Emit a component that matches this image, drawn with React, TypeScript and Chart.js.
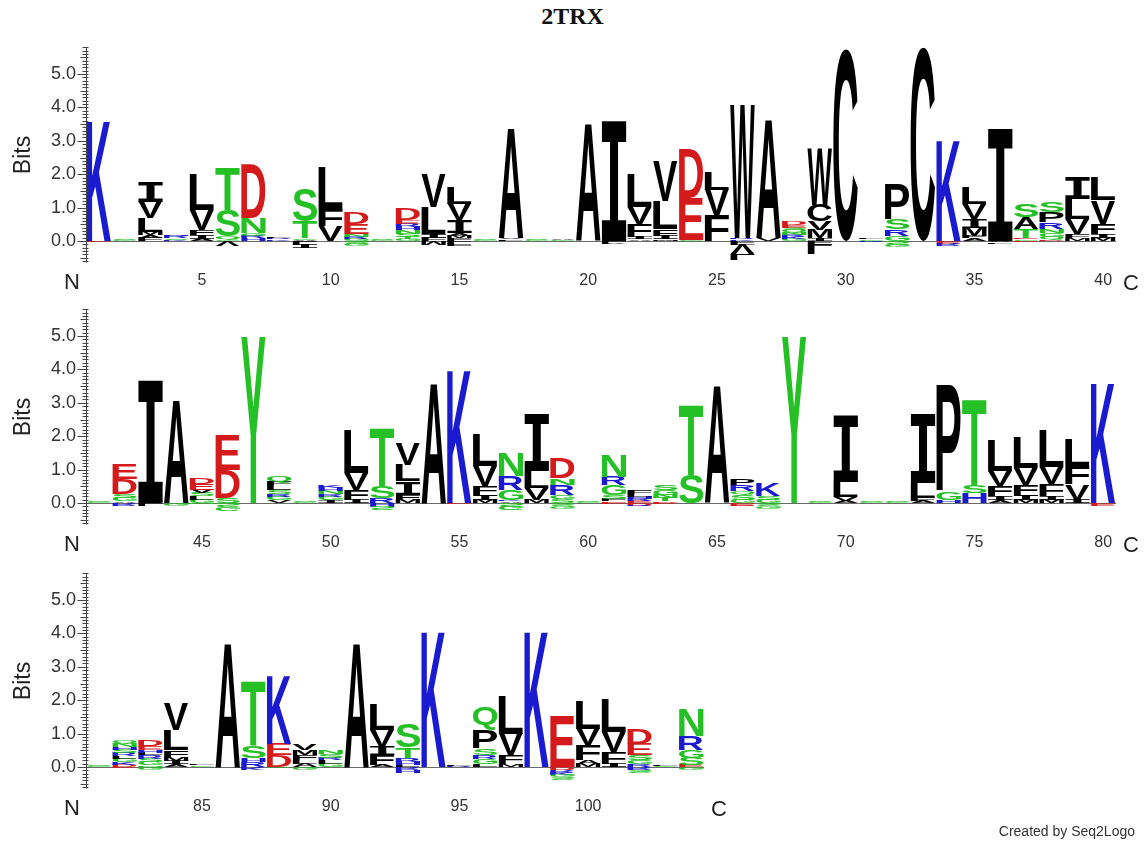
import React, { useEffect, useRef } from "react";
import { Chart, registerables } from "chart.js";

Chart.register(...registerables);

type Stack = [string, number][];

const TITLE = "2TRX";
const CREDIT = "Created by Seq2Logo";
const Y_LABEL = "Bits";
const Y_TICKS = [0, 1, 2, 3, 4, 5];
const Y_MIN = -0.65;
const Y_MAX = 5.8;
const X_LABEL_EVERY = 5;

// stacks: bottom -> top (bits)
const row1Up: Stack[] = [
  [["K", 3.6]],
  [["G", 0.03], ["S", 0.03]],
  [["F", 0.1], ["A", 0.08], ["M", 0.1], ["L", 0.4], ["V", 0.5], ["I", 0.57]],
  [["K", 0.04], ["S", 0.05], ["R", 0.06], ["H", 0.05]],
  [["A", 0.06], ["I", 0.12], ["F", 0.15], ["V", 0.6], ["L", 1.07]],
  [["G", 0.05], ["Q", 0.08], ["S", 0.8], ["T", 1.27]],
  [["H", 0.08], ["R", 0.08], ["G", 0.07], ["N", 0.45], ["D", 1.6]],
  [["K", 0.05], ["R", 0.05], ["L", 0.05]],
  [["A", 0.04], ["G", 0.04], ["T", 0.5], ["S", 0.98]],
  [["V", 0.45], ["F", 0.5], ["L", 1.25]],
  [["G", 0.06], ["R", 0.06], ["N", 0.08], ["E", 0.3], ["D", 0.35]],
  [["G", 0.03], ["S", 0.03]],
  [["G", 0.06], ["T", 0.06], ["S", 0.1], ["N", 0.1], ["H", 0.1], ["R", 0.1], ["E", 0.1], ["D", 0.35]],
  [["F", 0.1], ["I", 0.12], ["L", 0.8], ["V", 1.0]],
  [["F", 0.08], ["M", 0.08], ["A", 0.08], ["I", 0.38], ["V", 0.48], ["L", 0.5]],
  [["G", 0.04], ["S", 0.03]],
  [["L", 0.05], ["V", 0.05], ["A", 3.3]],
  [["G", 0.03], ["S", 0.03]],
  [["G", 0.03], ["A", 0.02]],
  [["A", 3.55]],
  [["I", 3.6]],
  [["A", 0.05], ["I", 0.07], ["F", 0.4], ["V", 0.5], ["L", 1.0]],
  [["M", 0.05], ["I", 0.1], ["F", 0.2], ["L", 0.85], ["V", 1.2]],
  [["G", 0.02], ["E", 1.28], ["D", 1.45]],
  [["F", 0.78], ["V", 0.75], ["L", 0.55]],
  [["K", 0.05], ["R", 0.05], ["W", 4.0]],
  [["V", 0.08], ["A", 3.57]],
  [["G", 0.06], ["K", 0.06], ["R", 0.06], ["N", 0.07], ["Q", 0.07], ["S", 0.07], ["E", 0.08], ["D", 0.1]],
  [["I", 0.08], ["M", 0.25], ["V", 0.25], ["C", 0.5], ["W", 1.7]],
  [["C", 5.75]],
  [["G", 0.05], ["L", 0.05]],
  [["G", 0.15], ["R", 0.2], ["S", 0.3], ["P", 1.05]],
  [["C", 5.8]],
  [["K", 3.05]],
  [["A", 0.08], ["F", 0.07], ["M", 0.25], ["I", 0.25], ["V", 0.45], ["L", 0.5]],
  [["I", 3.35]],
  [["G", 0.05], ["E", 0.05], ["T", 0.25], ["A", 0.35], ["S", 0.4]],
  [["D", 0.05], ["Q", 0.08], ["G", 0.12], ["N", 0.12], ["R", 0.2], ["P", 0.3], ["S", 0.3]],
  [["M", 0.08], ["F", 0.12], ["V", 0.45], ["L", 0.6], ["I", 0.65]],
  [["M", 0.1], ["I", 0.12], ["F", 0.3], ["V", 0.7], ["L", 0.68]],
];
// depleted residues: zero -> down (bits)
const row1Down: Record<number, Stack> = {
  1: [["E", 0.03]],
  6: [["V", 0.15]],
  9: [["L", 0.1], ["I", 0.12]],
  11: [["S", 0.06], ["G", 0.08]],
  14: [["M", 0.12]],
  15: [["L", 0.06], ["F", 0.06]],
  21: [["L", 0.06], ["V", 0.05]],
  26: [["F", 0.1], ["V", 0.3], ["L", 0.2]],
  29: [["F", 0.1], ["L", 0.3]],
  31: [["R", 0.04]],
  32: [["S", 0.1], ["G", 0.08]],
  34: [["E", 0.06], ["R", 0.06]],
  36: [["V", 0.05], ["L", 0.05]],
  37: [["D", 0.05]],
};

const row2Up: Stack[] = [
  [["G", 0.03], ["S", 0.03]],
  [["A", 0.05], ["G", 0.1], ["S", 0.12], ["D", 0.45], ["E", 0.45]],
  [["I", 3.65]],
  [["A", 3.1]],
  [["G", 0.1], ["L", 0.1], ["S", 0.1], ["V", 0.1], ["E", 0.18], ["D", 0.2]],
  [["S", 0.15], ["D", 0.85], ["E", 1.05]],
  [["Y", 5.0]],
  [["V", 0.08], ["G", 0.1], ["R", 0.08], ["S", 0.12], ["L", 0.15], ["F", 0.1], ["Q", 0.17]],
  [["G", 0.02], ["S", 0.02]],
  [["I", 0.08], ["G", 0.1], ["R", 0.08], ["N", 0.1], ["H", 0.1], ["K", 0.08]],
  [["I", 0.1], ["F", 0.3], ["V", 0.5], ["L", 1.3]],
  [["R", 0.15], ["S", 0.35], ["T", 1.75]],
  [["M", 0.1], ["F", 0.15], ["I", 0.4], ["L", 0.5], ["V", 0.65]],
  [["A", 3.6]],
  [["K", 4.0]],
  [["M", 0.1], ["I", 0.15], ["F", 0.25], ["V", 0.6], ["L", 0.95]],
  [["A", 0.05], ["K", 0.05], ["G", 0.3], ["R", 0.4], ["N", 0.7]],
  [["M", 0.1], ["V", 0.35], ["L", 0.5], ["I", 1.7]],
  [["S", 0.12], ["G", 0.13], ["R", 0.3], ["N", 0.2], ["D", 0.6]],
  [["G", 0.03], ["S", 0.03]],
  [["E", 0.05], ["F", 0.08], ["S", 0.1], ["G", 0.3], ["R", 0.25], ["N", 0.65]],
  [["E", 0.06], ["R", 0.06], ["H", 0.06], ["L", 0.1], ["F", 0.1]],
  [["D", 0.05], ["T", 0.1], ["N", 0.1], ["G", 0.15], ["S", 0.15]],
  [["S", 0.85], ["T", 2.1]],
  [["A", 3.55]],
  [["G", 0.1], ["S", 0.15], ["Q", 0.1], ["R", 0.2], ["P", 0.2]],
  [["G", 0.1], ["S", 0.1], ["K", 0.38]],
  [["Y", 5.0]],
  [["G", 0.03], ["S", 0.03]],
  [["A", 0.06], ["V", 0.12], ["L", 0.45], ["I", 2.0]],
  [["G", 0.03], ["S", 0.02]],
  [["G", 0.03], ["S", 0.02]],
  [["A", 0.06], ["F", 0.1], ["L", 0.45], ["I", 2.05]],
  [["H", 0.08], ["G", 0.25], ["P", 3.2]],
  [["H", 0.3], ["S", 0.22], ["T", 2.6]],
  [["A", 0.08], ["I", 0.12], ["F", 0.3], ["V", 0.45], ["L", 0.9]],
  [["M", 0.1], ["I", 0.15], ["F", 0.3], ["V", 0.5], ["L", 0.9]],
  [["M", 0.1], ["I", 0.12], ["F", 0.35], ["V", 0.5], ["L", 1.1]],
  [["I", 0.1], ["V", 0.45], ["F", 0.55], ["L", 0.8]],
  [["K", 3.6]],
];
const row2Down: Record<number, Stack> = {
  42: [["R", 0.06]],
  43: [["L", 0.08]],
  44: [["G", 0.08]],
  45: [["N", 0.05]],
  46: [["S", 0.12], ["G", 0.12]],
  52: [["H", 0.1], ["S", 0.12]],
  55: [["E", 0.04]],
  57: [["S", 0.1], ["G", 0.1]],
  59: [["S", 0.08], ["G", 0.08]],
  61: [["E", 0.05]],
  62: [["D", 0.06], ["R", 0.05]],
  63: [["E", 0.04]],
  66: [["E", 0.06], ["D", 0.05]],
  67: [["S", 0.08], ["G", 0.06]],
  80: [["E", 0.07]],
};

const row3Up: Stack[] = [
  [["G", 0.03], ["S", 0.03]],
  [["D", 0.06], ["K", 0.08], ["G", 0.1], ["L", 0.08], ["R", 0.1], ["S", 0.1], ["H", 0.08], ["N", 0.1], ["Q", 0.1]],
  [["N", 0.05], ["G", 0.1], ["S", 0.1], ["R", 0.1], ["L", 0.08], ["H", 0.08], ["E", 0.12], ["D", 0.17]],
  [["A", 0.08], ["I", 0.1], ["M", 0.12], ["F", 0.2], ["L", 0.6], ["V", 0.8]],
  [["G", 0.05], ["L", 0.04]],
  [["A", 3.72]],
  [["R", 0.15], ["H", 0.12], ["S", 0.35], ["T", 1.95]],
  [["D", 0.35], ["E", 0.35], ["K", 2.05]],
  [["A", 0.1], ["L", 0.1], ["F", 0.15], ["M", 0.15], ["V", 0.2]],
  [["G", 0.1], ["L", 0.1], ["R", 0.08], ["S", 0.12], ["N", 0.1]],
  [["A", 3.72]],
  [["A", 0.06], ["F", 0.3], ["I", 0.25], ["V", 0.5], ["L", 0.75]],
  [["L", 0.06], ["H", 0.1], ["R", 0.12], ["T", 0.3], ["S", 0.7]],
  [["K", 4.1]],
  [["R", 0.04], ["L", 0.04]],
  [["L", 0.08], ["G", 0.15], ["R", 0.12], ["S", 0.2], ["P", 0.55], ["Q", 0.7]],
  [["M", 0.08], ["F", 0.27], ["V", 0.65], ["L", 1.15]],
  [["K", 4.1]],
  [["E", 1.55]],
  [["M", 0.1], ["A", 0.1], ["F", 0.45], ["V", 0.5], ["L", 0.85]],
  [["I", 0.1], ["F", 0.35], ["V", 0.6], ["L", 1.0]],
  [["R", 0.08], ["G", 0.12], ["S", 0.15], ["E", 0.35], ["D", 0.45]],
  [["G", 0.03], ["L", 0.03]],
  [["E", 0.06], ["S", 0.22], ["G", 0.22], ["R", 0.42], ["N", 0.8]],
];
const row3Down: Record<number, Stack> = {
  82: [["E", 0.04]],
  83: [["G", 0.08]],
  87: [["K", 0.08]],
  88: [["G", 0.05]],
  89: [["G", 0.08]],
  93: [["R", 0.08], ["H", 0.06]],
  99: [["D", 0.08], ["R", 0.08], ["K", 0.06], ["G", 0.08], ["S", 0.06]],
  102: [["R", 0.08], ["S", 0.08]],
  104: [["G", 0.06]],
};

const ROWS = [
  { start: 1, up: row1Up, down: row1Down },
  { start: 41, up: row2Up, down: row2Down },
  { start: 81, up: row3Up, down: row3Down },
];

// layout
const W = 1145;
const CANVAS_H = 260;
const ROW_TOPS = [40, 302, 566];
const PAD_TOP = 7.3;
const AXIS_LEFT = 86;
const POS_W = 25.75;
const PX_PER_BIT = 33.4;
const SANS = '"Liberation Sans", Arial, Helvetica, sans-serif';

const BLACK = "#000000";
const GREEN = "#25C025";
const BLUE = "#1A1AD0";
const RED = "#D41A1A";
function letterColor(ch: string) {
  if ("KRH".includes(ch)) return BLUE;
  if ("DE".includes(ch)) return RED;
  if ("GSTYQN".includes(ch)) return GREEN;
  return BLACK;
}

function drawGlyph(ctx: CanvasRenderingContext2D, ch: string, x0: number, top: number, w: number, h: number, flip: boolean) {
  const font = ch === "I" ? 'bold 100px "DejaVu Sans Mono", monospace' : 'bold 100px ' + SANS;
  ctx.save();
  ctx.font = font;
  ctx.textAlign = "left";
  ctx.textBaseline = "alphabetic";
  const m = ctx.measureText(ch);
  const gl = m.actualBoundingBoxLeft;
  const gw = m.actualBoundingBoxLeft + m.actualBoundingBoxRight;
  const ga = m.actualBoundingBoxAscent;
  const gh = m.actualBoundingBoxAscent + m.actualBoundingBoxDescent;
  ctx.translate(x0, top);
  if (flip) {
    ctx.translate(0, h);
    ctx.scale(w / gw, -h / gh);
  } else {
    ctx.scale(w / gw, h / gh);
  }
  ctx.fillStyle = letterColor(ch);
  ctx.fillText(ch, gl, ga);
  ctx.restore();
}

const logoPlugin = {
  id: "logoLetters",
  beforeDatasetsDraw(chart: any) {
    const { ctx, chartArea } = chart;
    const y0 = Math.round(chart.scales.y.getPixelForValue(0)) + 0.5;
    ctx.save();
    ctx.strokeStyle = "#6a6a6a";
    ctx.lineWidth = 1;
    ctx.beginPath();
    ctx.moveTo(chartArea.left, y0);
    ctx.lineTo(chartArea.right, y0);
    ctx.stroke();
    ctx.restore();
  },
  afterDatasetsDraw(chart: any) {
    const ctx = chart.ctx;
    chart.data.datasets.forEach((ds: any, di: number) => {
      const meta = chart.getDatasetMeta(di);
      meta.data.forEach((el: any, i: number) => {
        const ch = ds.letters[i];
        if (!ch) return;
        const p = el.getProps(["x", "y", "base", "width"], true);
        const top = Math.min(p.y, p.base);
        const h = Math.abs(p.base - p.y);
        if (h < 0.4) return;
        drawGlyph(ctx, ch, p.x - p.width / 2 + 0.6, top, p.width - 1.2, h, ds.flip);
      });
    });
  },
  afterDraw(chart: any) {
    const { ctx, chartArea } = chart;
    const ys = chart.scales.y;
    const left = Math.round(chartArea.left) + 0.5;
    ctx.save();
    ctx.strokeStyle = "#444";
    ctx.lineWidth = 1;
    ctx.beginPath();
    ctx.moveTo(left, chartArea.top);
    ctx.lineTo(left, chartArea.bottom);
    for (let t = Math.ceil(Y_MIN * 10); t <= Math.floor(Y_MAX * 10); t++) {
      const py = Math.round(ys.getPixelForValue(t / 10)) + 0.5;
      const major = t % 10 === 0 && Y_TICKS.includes(t / 10);
      const len = major ? 9 : t % 5 === 0 ? 6 : 4;
      ctx.moveTo(left - len, py);
      ctx.lineTo(left + 2, py);
    }
    ctx.stroke();
    ctx.fillStyle = "#222";
    ctx.font = "22px " + SANS;
    ctx.textAlign = "center";
    ctx.textBaseline = "middle";
    ctx.fillText("N", chartArea.left - 14, chartArea.bottom + 20);
    ctx.fillText("C", chartArea.right + 15, chartArea.bottom + 21);
    ctx.restore();
  },
};

function LogoRow({ row, top }: { row: any; top: number }) {
  const ref = useRef<HTMLCanvasElement>(null);
  useEffect(() => {
    const up: Stack[] = row.up;
    const positions = up.map((_: any, i: number) => row.start + i);
    const downs: Stack[] = positions.map((p: number) => row.down[p] || []);
    const chartW = up.length * POS_W;
    const chartH = (Y_MAX - Y_MIN) * PX_PER_BIT;
    const padRight = W - AXIS_LEFT - chartW;
    const maxUp = Math.max(...up.map((s) => s.length));
    const maxDown = Math.max(...downs.map((s) => s.length));
    const base = {
      stack: "logo",
      backgroundColor: "rgba(0,0,0,0)",
      borderWidth: 0,
      barPercentage: 1,
      categoryPercentage: 1,
    };
    const datasets: any[] = [];
    for (let k = 0; k < maxUp; k++) {
      datasets.push({
        ...base,
        data: up.map((s) => (s[k] ? s[k][1] : 0)),
        letters: up.map((s) => (s[k] ? s[k][0] : "")),
        flip: false,
      });
    }
    for (let k = 0; k < maxDown; k++) {
      datasets.push({
        ...base,
        data: downs.map((s) => (s[k] ? -s[k][1] : 0)),
        letters: downs.map((s) => (s[k] ? s[k][0] : "")),
        flip: true,
      });
    }
    const chart = new Chart(ref.current as HTMLCanvasElement, {
      type: "bar",
      data: { labels: positions.map(String), datasets },
      options: {
        animation: false,
        responsive: false,
        devicePixelRatio: 1,
        events: [],
        layout: { padding: { top: PAD_TOP, right: padRight, left: 0, bottom: 0 } },
        plugins: { legend: { display: false }, tooltip: { enabled: false }, title: { display: false } },
        scales: {
          x: {
            type: "category",
            stacked: true,
            offset: true,
            grid: { display: false, drawTicks: false },
            border: { display: false },
            ticks: {
              autoSkip: false,
              maxRotation: 0,
              minRotation: 0,
              padding: 8,
              color: "#333",
              font: { family: SANS, size: 16 },
              callback: (_v: any, i: number) => (positions[i] % X_LABEL_EVERY === 0 ? String(positions[i]) : ""),
            },
            afterFit: (s: any) => {
              s.height = CANVAS_H - PAD_TOP - chartH;
              s.paddingLeft = 0;
              s.paddingRight = 0;
            },
          },
          y: {
            type: "linear",
            stacked: true,
            min: Y_MIN,
            max: Y_MAX,
            grid: { display: false, drawTicks: false },
            border: { display: false },
            afterBuildTicks: (s: any) => {
              s.ticks = Y_TICKS.map((v) => ({ value: v }));
            },
            ticks: {
              padding: 10,
              color: "#333",
              font: { family: SANS, size: 18 },
              callback: (v: any) => Number(v).toFixed(1),
            },
            title: {
              display: true,
              text: Y_LABEL,
              color: "#222",
              font: { family: SANS, size: 23 },
              padding: { top: 10, bottom: 0 },
            },
            afterFit: (s: any) => {
              s.width = AXIS_LEFT;
              s.paddingTop = 0;
              s.paddingBottom = 0;
            },
          },
        },
      } as any,
      plugins: [logoPlugin],
    });
    return () => chart.destroy();
  }, []);
  return (
    <canvas
      ref={ref}
      width={W}
      height={CANVAS_H}
      style={{ position: "absolute", left: 0, top, width: W, height: CANVAS_H }}
    />
  );
}

export default function App() {
  return (
    <div style={{ position: "absolute", left: 0, top: 0, width: W, height: 842, background: "#fff", overflow: "hidden" }}>
      <div
        style={{
          position: "absolute",
          left: 0,
          top: 3,
          width: W,
          textAlign: "center",
          font: 'bold 24px "Liberation Serif", "Times New Roman", serif',
          color: "#111",
        }}
      >
        {TITLE}
      </div>
      {ROWS.map((row, i) => (
        <LogoRow key={i} row={row} top={ROW_TOPS[i]} />
      ))}
      <div
        style={{
          position: "absolute",
          right: 10,
          top: 823,
          font: "14px " + SANS,
          color: "#333",
        }}
      >
        {CREDIT}
      </div>
    </div>
  );
}
